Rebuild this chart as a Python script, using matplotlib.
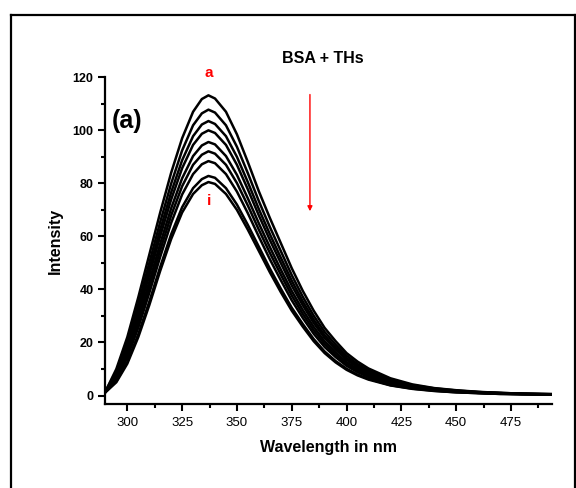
import matplotlib
matplotlib.use("Agg")
import matplotlib.pyplot as plt
from matplotlib.lines import Line2D
from matplotlib.ticker import MultipleLocator

plt.rcParams['font.family'] = ['Liberation Sans', 'DejaVu Sans']

# wavelength grid (nm) and emission intensities for curves a..i
wavelength = [290, 295, 300, 305, 310, 315, 320, 325, 330, 334, 337, 340, 345, 350,
              355, 360, 365, 370, 375, 380, 385, 390, 395, 400, 405, 410, 420, 430,
              440, 450, 460, 470, 480, 494]

curve_a = [1.5, 10.0, 22.0, 37.0, 53.0, 69.0, 84.0, 97.0, 107.0, 111.8, 113.2, 112.0, 107.0, 98.5,
           88.0, 77.0, 67.0, 57.5, 48.0, 39.5, 32.0, 25.5, 20.5, 16.0, 12.8, 10.2, 6.5, 4.2,
           2.8, 2.0, 1.4, 1.0, 0.7, 0.5]
curve_b = [1.5, 9.2, 20.4, 34.5, 49.9, 65.4, 79.9, 92.4, 101.9, 106.4, 107.8, 106.7, 101.9, 93.8,
           83.8, 73.3, 63.6, 54.5, 45.4, 37.3, 30.1, 24.0, 19.2, 15.0, 11.9, 9.5, 6.1, 3.9,
           2.7, 1.9, 1.3, 1.0, 0.7, 0.5]
curve_c = [1.4, 8.5, 19.0, 32.5, 47.4, 62.5, 76.6, 88.7, 97.8, 102.2, 103.5, 102.4, 97.8, 90.0,
           80.4, 70.3, 60.9, 52.0, 43.3, 35.5, 28.6, 22.7, 18.1, 14.1, 11.3, 8.9, 5.7, 3.7,
           2.4, 1.7, 1.3, 0.9, 0.6, 0.5]
curve_d = [1.4, 8.0, 18.0, 30.9, 45.3, 60.1, 73.9, 85.7, 94.5, 98.7, 100.0, 99.0, 94.5, 87.0,
           77.7, 67.9, 58.7, 50.0, 41.5, 34.1, 27.4, 21.7, 17.3, 13.5, 10.7, 8.5, 5.4, 3.5,
           2.3, 1.7, 1.2, 0.9, 0.6, 0.5]
curve_e = [1.3, 7.3, 16.6, 28.9, 42.8, 57.2, 70.6, 81.9, 90.3, 94.3, 95.6, 94.7, 90.3, 83.2,
           74.3, 64.9, 56.0, 47.5, 39.4, 32.3, 25.9, 20.4, 16.2, 12.6, 10.0, 7.9, 5.0, 3.3,
           2.2, 1.6, 1.1, 0.7, 0.6, 0.4]
curve_f = [1.3, 6.8, 15.6, 27.3, 40.7, 54.8, 67.9, 78.9, 87.0, 90.8, 92.1, 91.2, 87.0, 80.1,
           71.6, 62.5, 53.8, 45.6, 37.7, 30.8, 24.6, 19.4, 15.3, 11.9, 9.4, 7.5, 4.7, 3.1,
           2.1, 1.5, 1.0, 0.7, 0.6, 0.4]
curve_g = [1.3, 6.2, 14.4, 25.6, 38.6, 52.3, 65.1, 75.8, 83.5, 87.2, 88.4, 87.6, 83.5, 76.9,
           68.7, 59.9, 51.4, 43.5, 35.9, 29.3, 23.3, 18.3, 14.5, 11.2, 8.8, 7.0, 4.4, 2.9,
           1.9, 1.4, 1.0, 0.7, 0.5, 0.4]
curve_h = [1.2, 5.4, 12.7, 23.1, 35.3, 48.5, 60.8, 71.0, 78.2, 81.6, 82.8, 82.1, 78.2, 72.0,
           64.3, 56.1, 47.9, 40.3, 33.1, 27.0, 21.3, 16.6, 13.0, 10.1, 7.9, 6.3, 3.9, 2.6,
           1.8, 1.2, 0.9, 0.6, 0.5, 0.4]
curve_i = [1.2, 5.0, 12.0, 22.0, 34.0, 47.0, 59.0, 69.0, 76.0, 79.3, 80.5, 79.8, 76.0, 70.0,
           62.5, 54.5, 46.5, 39.0, 32.0, 26.0, 20.5, 16.0, 12.5, 9.7, 7.6, 6.0, 3.8, 2.5,
           1.7, 1.2, 0.9, 0.6, 0.5, 0.4]

curves = [curve_a, curve_b, curve_c, curve_d, curve_e, curve_f, curve_g, curve_h, curve_i]

fig = plt.figure(figsize=(5.76, 4.88), dpi=100)

# outer frame around the panel
W, H = 576, 488
for xs, ys in [([11, 11], [15, 488]), ([11, 575], [15, 15]), ([575, 575], [15, 488])]:
    fig.add_artist(Line2D([x / W for x in xs], [1 - y / H for y in ys],
                          color='black', lw=1.6, transform=fig.transFigure))

ax = fig.add_axes([104.5 / W, 1 - 404 / H, (552 - 104.5) / W, (404 - 77.3) / H])

for c in curves:
    ax.plot(wavelength, c, color='black', lw=1.8, solid_joinstyle='round')

ax.set_xlim(289.6, 493.7)
ax.set_ylim(-3.2, 120)

ax.spines['top'].set_visible(False)
ax.spines['right'].set_visible(False)
for s in ['left', 'bottom']:
    ax.spines[s].set_linewidth(1.6)

ax.xaxis.set_major_locator(MultipleLocator(25))
ax.xaxis.set_minor_locator(MultipleLocator(12.5))
ax.yaxis.set_major_locator(MultipleLocator(20))
ax.yaxis.set_minor_locator(MultipleLocator(10))
ax.tick_params(which='major', direction='out', length=5, width=1.5)
ax.tick_params(which='minor', direction='out', length=3, width=1.5)
ax.tick_params(axis='x', labelsize=9.5, pad=4)
ax.tick_params(axis='y', labelsize=9, pad=3)
for lab in ax.get_yticklabels():
    lab.set_fontweight('bold')

ax.set_xlabel('Wavelength in nm', fontsize=11.5, fontweight='bold', labelpad=8)
ax.set_ylabel('Intensity', fontsize=11.5, fontweight='bold', labelpad=7)

ax.text(337, 121.5, 'a', color='red', fontsize=11, fontweight='bold',
        ha='center', va='center', clip_on=False)
ax.text(337.3, 73.5, 'i', color='red', fontsize=11, fontweight='bold',
        ha='center', va='center')
ax.text(293, 103.5, '(a)', fontsize=18, fontweight='bold', ha='left', va='center')
ax.text(389, 127, 'BSA + THs', fontsize=11.5, fontweight='bold',
        ha='center', va='center', clip_on=False)

ax.annotate('', xy=(383.3, 69.5), xytext=(383.3, 113.5),
            arrowprops=dict(arrowstyle='-|>', color='red', lw=1.0,
                            mutation_scale=7, shrinkA=0, shrinkB=0))

fig.savefig('out.png', dpi=100)
